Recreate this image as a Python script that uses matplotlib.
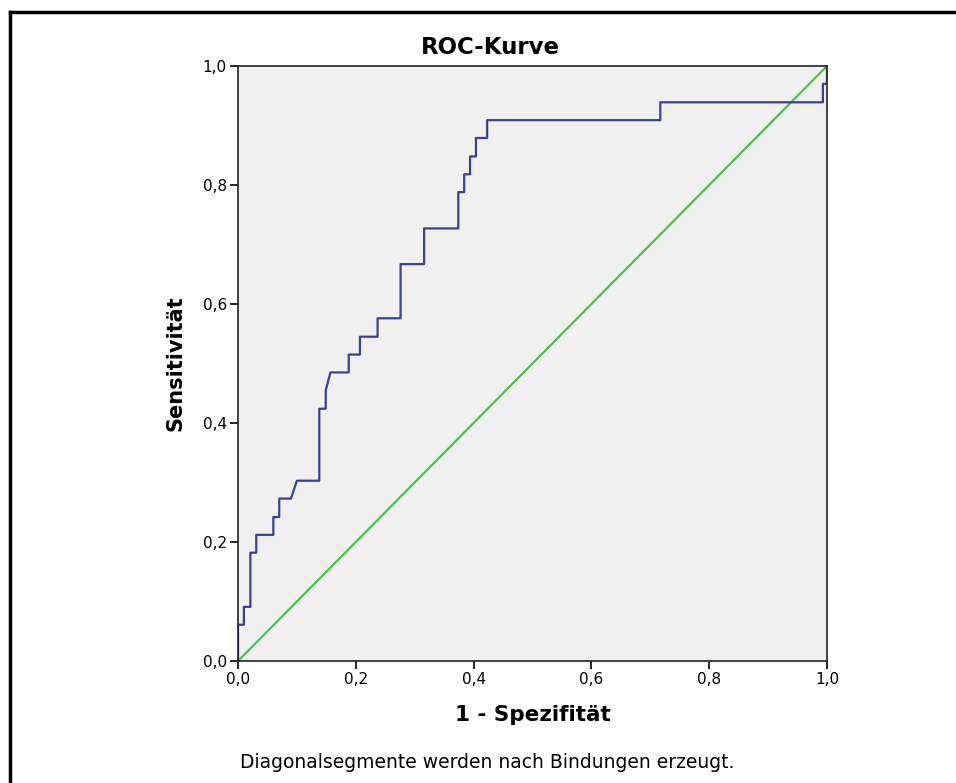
import matplotlib.pyplot as plt
from matplotlib.lines import Line2D
from matplotlib.ticker import FuncFormatter

# ROC curve vertices (1 - specificity, sensitivity)
fpr = [0.000, 0.000, 0.010, 0.010, 0.021, 0.021, 0.031, 0.031, 0.060, 0.060,
       0.070, 0.070, 0.090, 0.100, 0.138, 0.138, 0.149, 0.149, 0.157, 0.188,
       0.188, 0.207, 0.207, 0.237, 0.237, 0.276, 0.276, 0.316, 0.316, 0.374,
       0.374, 0.384, 0.384, 0.394, 0.394, 0.404, 0.404, 0.423, 0.423, 0.717,
       0.717, 0.993, 0.993, 1.000, 1.000]
sens = [0.000, 0.061, 0.061, 0.091, 0.091, 0.182, 0.182, 0.212, 0.212, 0.242,
        0.242, 0.273, 0.273, 0.303, 0.303, 0.424, 0.424, 0.455, 0.485, 0.485,
        0.515, 0.515, 0.545, 0.545, 0.576, 0.576, 0.667, 0.667, 0.727, 0.727,
        0.788, 0.788, 0.818, 0.818, 0.848, 0.848, 0.879, 0.879, 0.909, 0.909,
        0.939, 0.939, 0.970, 0.970, 1.000]
ref_line = [0.0, 1.0]
ticks = [0.0, 0.2, 0.4, 0.6, 0.8, 1.0]

fig = plt.figure(figsize=(9.56, 7.83), dpi=100)
ax = fig.add_axes([238 / 956, 1 - 661 / 783, 589 / 956, 595 / 783])
ax.set_facecolor('#f0f0f0')

ax.plot(ref_line, ref_line, color='#4cbf4c', linewidth=1.6)
ax.plot(fpr, sens, color='#3d4090', linewidth=1.6)

ax.set_xlim(0, 1)
ax.set_ylim(0, 1)
ax.set_xticks(ticks)
ax.set_yticks(ticks)
comma = FuncFormatter(lambda v, p: f"{v:.1f}".replace('.', ','))
ax.xaxis.set_major_formatter(comma)
ax.yaxis.set_major_formatter(comma)
ax.tick_params(direction='out', length=6, width=1.2, labelsize=11, pad=2)
for side in ax.spines.values():
    side.set_color('#222222')
    side.set_linewidth(1.2)

# title is centred on the whole chart area, not on the axes
fig.text(490 / 956, 1 - 47 / 783, 'ROC-Kurve', fontsize=16.5, fontweight='bold',
         ha='center', va='center')
ax.set_xlabel('1 - Spezifität', fontsize=15.5, fontweight='bold', labelpad=13)
ax.set_ylabel('Sensitivität', fontsize=15, fontweight='bold', labelpad=12)

fig.text(240 / 956, 1 - 763 / 783, 'Diagonalsegmente werden nach Bindungen erzeugt.',
         fontsize=13.5, ha='left', va='center')

# outer frame (top and left edges only visible in the reference)
fig.add_artist(Line2D([9.5 / 956, 1.0], [1 - 11.5 / 783, 1 - 11.5 / 783],
                      transform=fig.transFigure, color='black', linewidth=2.5))
fig.add_artist(Line2D([9.5 / 956, 9.5 / 956], [0.0, 1 - 11.5 / 783],
                      transform=fig.transFigure, color='black', linewidth=2.5))

fig.savefig('out.png', dpi=100)
